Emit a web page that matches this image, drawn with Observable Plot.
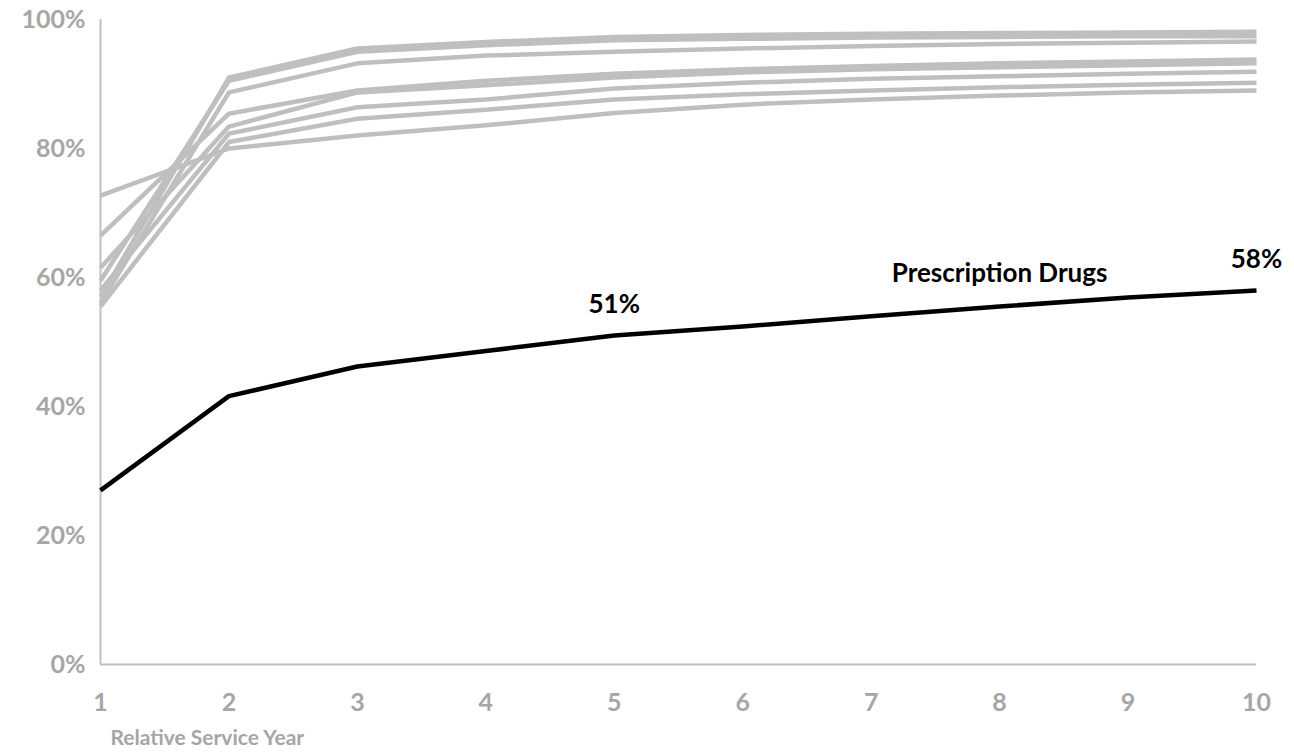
<!DOCTYPE html>
<html>
<head>
<meta charset="utf-8">
<script src="https://cdn.jsdelivr.net/npm/d3@7"></script>
<script src="https://cdn.jsdelivr.net/npm/@observablehq/plot@0.6"></script>
<style>
  html, body { margin: 0; padding: 0; background: #fff; }
  #chart svg { display: block; }
</style>
</head>
<body>
<div id="chart"></div>
<script>
// Relative service years on the x axis
const years = [1, 2, 3, 4, 5, 6, 7, 8, 9, 10];

// Cumulative share (%) by relative service year — prescription drugs (highlighted)
const prescriptionDrugs = [27, 41.6, 46.2, 48.6, 51, 52.4, 54, 55.5, 56.9, 58];

// Cumulative share (%) for the other service categories (shown in grey)
const otherService1 = [57, 91, 95.5, 96.5, 97.3, 97.6, 97.8, 97.9, 98.0, 98.1];
const otherService2 = [59.5, 90.5, 95, 96, 96.8, 97.0, 97.2, 97.3, 97.4, 97.4];
const otherService3 = [56, 88.7, 93.2, 94.4, 95.0, 95.5, 95.9, 96.2, 96.4, 96.6];
const otherService4 = [66.5, 85.4, 89, 90.5, 91.6, 92.3, 92.8, 93.2, 93.5, 93.8];
const otherService5 = [61.5, 83.4, 88.7, 89.8, 91.0, 91.8, 92.3, 92.6, 92.9, 93.2];
const otherService6 = [58, 82.3, 86.4, 87.6, 89.3, 90.2, 90.8, 91.2, 91.6, 91.9];
const otherService7 = [55.5, 81, 84.6, 86, 87.6, 88.4, 89.0, 89.5, 89.9, 90.2];
const otherService8 = [72.7, 80, 82, 83.6, 85.5, 86.8, 87.6, 88.2, 88.7, 89.0];

const yTicks = [0, 20, 40, 60, 80, 100];
const xLabel = "Relative Service Year";
const seriesLabel = "Prescription Drugs";

const otherSeries = [otherService1, otherService2, otherService3, otherService4,
  otherService5, otherService6, otherService7, otherService8];

const greyRows = otherSeries.flatMap((vals, i) =>
  vals.map((v, j) => ({series: i, year: years[j], value: v})));
const drugRows = prescriptionDrugs.map((v, j) => ({year: years[j], value: v}));

// labelled points on the highlighted line
const valueLabels = [drugRows[4], drugRows[9]];
const nameLabel = [drugRows[7]];

const FONT = "Lato, 'Open Sans', sans-serif";
const GREY = "#bfbfbf";
const TICK_GREY = "#a6a6a6";

const chart = Plot.plot({
  width: 1294,
  height: 752,
  marginLeft: 100,
  marginRight: 38,
  marginTop: 19,
  marginBottom: 88,
  style: {fontFamily: FONT, background: "#fff", overflow: "visible"},
  x: {domain: [1, 10]},
  y: {domain: [0, 100]},
  marks: [
    Plot.ruleX([1], {stroke: GREY, strokeWidth: 2}),
    Plot.ruleY([0], {stroke: GREY, strokeWidth: 2}),
    Plot.axisX(years, {
      tickSize: 0, tickPadding: 29, label: null,
      fontSize: 25, fontWeight: "bold", fill: TICK_GREY,
      tickFormat: d => String(d)
    }),
    Plot.axisY(yTicks, {
      tickSize: 0, tickPadding: 15, label: null,
      fontSize: 25, fontWeight: "bold", fill: TICK_GREY,
      tickFormat: d => d + "%"
    }),
    Plot.text([xLabel], {
      frameAnchor: "bottom-left", dx: 10, dy: 80, textAnchor: "start",
      fontSize: 21, fontWeight: "bold", fill: TICK_GREY
    }),
    Plot.line(greyRows, {
      x: "year", y: "value", z: "series",
      stroke: GREY, strokeWidth: 4.5, strokeLinejoin: "round", strokeLinecap: "butt"
    }),
    Plot.line(drugRows, {
      x: "year", y: "value",
      stroke: "#000", strokeWidth: 4.5, strokeLinejoin: "round", strokeLinecap: "butt"
    }),
    Plot.text(valueLabels, {
      x: "year", y: "value", text: d => Math.round(d.value) + "%",
      dy: -31, fontSize: 26, fontWeight: "bold", fill: "#000"
    }),
    Plot.text(nameLabel, {
      x: "year", y: "value", text: () => seriesLabel,
      dy: -33, fontSize: 26, fontWeight: "bold", fill: "#000"
    })
  ]
});

document.getElementById("chart").appendChild(chart);
</script>
</body>
</html>
